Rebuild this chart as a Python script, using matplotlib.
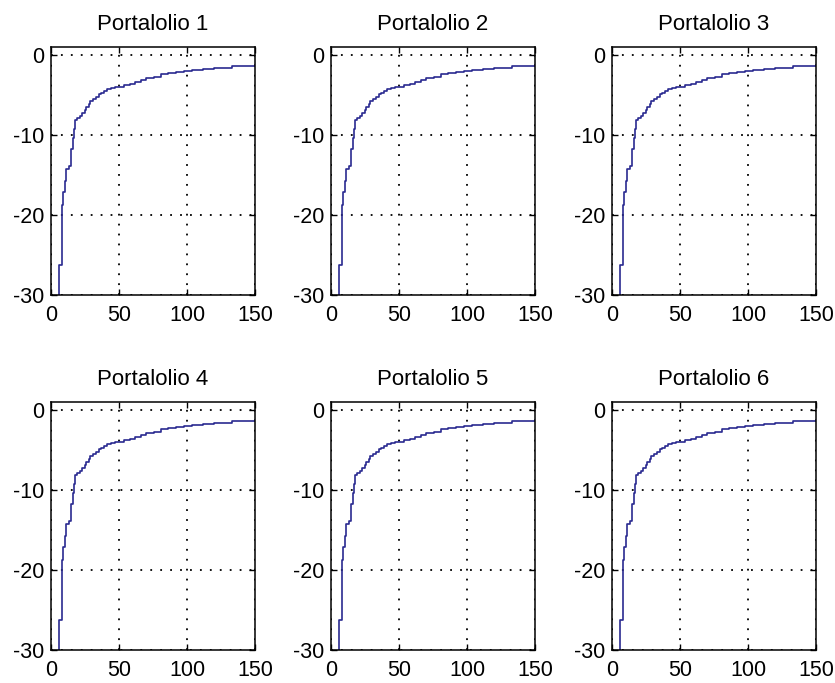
import matplotlib.pyplot as plt

# staircase: level y holds from x until the next x
step_x = [6, 6, 8, 9, 10, 11, 13, 15, 16, 17, 18, 19, 21, 23, 25, 26, 28, 29, 31, 33,
          35, 37, 39, 41, 44, 47, 54, 58, 62, 66, 70, 76, 81, 86, 92, 98, 104, 112,
          120, 133, 150]
step_y = [-45, -26.2, -18.7, -17.1, -15.8, -14.2, -13.9, -11.7, -10.4, -9.2, -8.1, -7.9,
          -7.6, -7.2, -6.9, -6.5, -6.1, -5.8, -5.5, -5.2, -4.9, -4.7, -4.5, -4.3, -4.1,
          -3.95, -3.8, -3.6, -3.4, -3.1, -2.9, -2.7, -2.4, -2.3, -2.1, -2.0, -1.85,
          -1.7, -1.6, -1.4, -1.3]

titles = ['Portalolio 1', 'Portalolio 2', 'Portalolio 3',
          'Portalolio 4', 'Portalolio 5', 'Portalolio 6']
x_ticks = [0, 50, 100, 150]
y_ticks = [-30, -20, -10, 0]

plt.rcParams['font.family'] = 'Liberation Sans'
plt.rcParams['axes.unicode_minus'] = False

fig = plt.figure(figsize=(8.35, 6.83), dpi=100)
fig.patch.set_facecolor('white')

lefts = [0.0611, 0.3964, 0.7329]
bottoms = [0.5681, 0.0483]
w, h = 0.2443, 0.3630

for i, title in enumerate(titles):
    r, c = divmod(i, 3)
    ax = fig.add_axes([lefts[c], bottoms[r], w, h])
    ax.step(step_x, step_y, where='post', color='#2a2a90', lw=1.2)
    ax.set_xlim(0, 150)
    ax.set_ylim(-30, 1)
    ax.set_xticks(x_ticks)
    ax.set_yticks(y_ticks)
    ax.grid(True, color='black', linestyle=(0, (1, 4.5)), linewidth=1.3)
    ax.tick_params(direction='in', length=4, width=1, top=True, right=True,
                   labelsize=15.5)
    ax.tick_params(axis='x', pad=7)
    ax.tick_params(axis='y', pad=5)
    for s in ax.spines.values():
        s.set_linewidth(1.1)
    ax.set_title(title, fontsize=16, pad=12)

plt.savefig('out.png', dpi=100)
